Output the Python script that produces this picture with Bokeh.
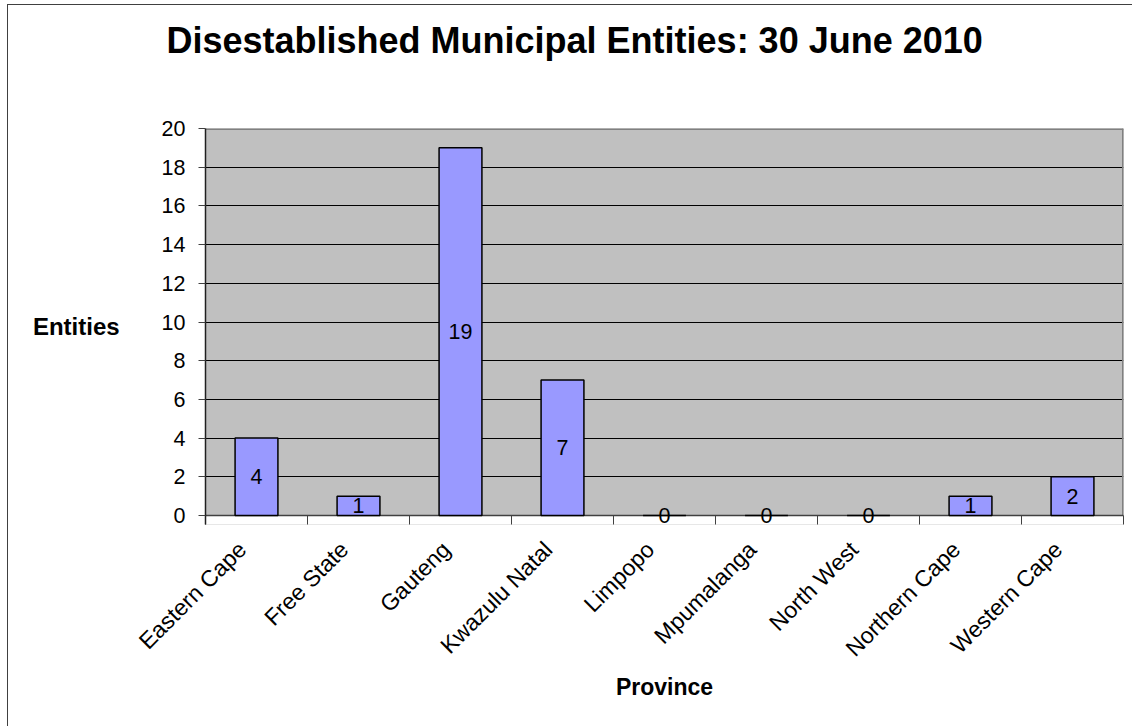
import math
from bokeh.plotting import figure
from bokeh.models import Range1d, FixedTicker, Label, Title, BoxAnnotation
from bokeh.embed import file_html
from bokeh.resources import INLINE

provinces = ["Eastern Cape", "Free State", "Gauteng", "Kwazulu Natal", "Limpopo",
             "Mpumalanga", "North West", "Northern Cape", "Western Cape"]
entities = [4, 1, 19, 7, 0, 0, 0, 1, 2]
y_ticks = [0, 2, 4, 6, 8, 10, 12, 14, 16, 18, 20]

title_text = "Disestablished Municipal Entities: 30 June 2010"
x_label = "Province"
y_label = "Entities"

FONT = "Liberation Sans"

n = len(provinces)
centers = [i + 0.5 for i in range(n)]
bounds = [float(i) for i in range(n + 1)]
label_pos = [c - 0.14 for c in centers]   # rotated labels sit slightly left of the centre
y_max = y_ticks[-1]
y_pad = -0.465   # a little room under zero so the "0" value labels are not clipped

p = figure(width=1125, height=722, output_backend="svg", toolbar_location=None,
           x_range=Range1d(0, n), y_range=Range1d(y_pad, y_max),
           min_border_left=197, min_border_top=123, min_border_right=10, min_border_bottom=203)

p.styles = {"margin-left": "7px", "margin-top": "4px",
            "border-left": "1px solid #404040", "border-top": "1px solid #404040"}

p.background_fill_color = "#C0C0C0"
p.border_fill_color = "white"
p.outline_line_color = None

# titles: a spacer next to the frame, then the real title above it
p.title.text = ""
p.add_layout(Title(text=" ", text_font_size="1px", standoff=65), "above")
p.add_layout(Title(text=title_text, align="left", offset=-39, standoff=0,
                   text_font=FONT, text_font_size="36px", text_font_style="bold",
                   text_color="black"), "above")

# white strip under the zero line
p.add_layout(BoxAnnotation(top=0, fill_color="white", fill_alpha=1.0,
                           line_color=None, level="underlay"))

# grids
p.xgrid.visible = False
p.ygrid.grid_line_color = "black"
p.ygrid.grid_line_width = 1
p.ygrid.ticker = FixedTicker(ticks=y_ticks)

# plot-area border (top and right) and the category axis line on zero
p.segment(x0=[0, n], y0=[y_max, 0], x1=[n, n], y1=[y_max, y_max],
          line_color="#808080", line_width=3)
p.segment(x0=[0], y0=[0], x1=[n], y1=[0], line_color="#404040", line_width=1.5)

# y axis
p.yaxis.ticker = FixedTicker(ticks=y_ticks)
p.yaxis.axis_line_color = "#202020"
p.yaxis.axis_line_width = 1.5
p.yaxis.major_tick_out = 7
p.yaxis.major_tick_in = 0
p.yaxis.major_tick_line_color = "#404040"
p.yaxis.minor_tick_out = 0
p.yaxis.minor_tick_in = 0
p.yaxis.major_label_standoff = 13
p.yaxis.major_label_text_font = FONT
p.yaxis.major_label_text_font_size = "21.5px"
p.yaxis.major_label_text_color = "black"
p.yaxis.axis_label = y_label
p.yaxis.axis_label_orientation = "horizontal"
p.yaxis.axis_label_standoff = 39
p.yaxis.axis_label_text_font = FONT
p.yaxis.axis_label_text_font_size = "24px"
p.yaxis.axis_label_text_font_style = "bold"
p.yaxis.axis_label_text_color = "black"

# x axis (frame bottom sits 9px under zero; boundary ticks reach up to the zero line)
p.xaxis.ticker = FixedTicker(ticks=label_pos, minor_ticks=bounds)
p.xaxis.major_label_overrides = {c: name for c, name in zip(label_pos, provinces)}
p.xaxis.major_label_orientation = math.pi / 4
p.xaxis.axis_line_color = None
p.xaxis.major_tick_out = 0
p.xaxis.major_tick_in = 0
p.xaxis.minor_tick_out = 0
p.xaxis.minor_tick_in = 9
p.xaxis.minor_tick_line_color = "#404040"
p.xaxis.minor_tick_line_width = 1
p.xaxis.major_label_standoff = 21
p.xaxis.major_label_text_font = FONT
p.xaxis.major_label_text_font_size = "23px"
p.xaxis.major_label_text_color = "black"
p.xaxis.axis_label = x_label
p.xaxis.axis_label_standoff = 0
p.xaxis.axis_label_text_font = FONT
p.xaxis.axis_label_text_font_size = "23px"
p.xaxis.axis_label_text_font_style = "bold"
p.xaxis.axis_label_text_color = "black"

# bars
p.vbar(x=centers, top=entities, width=0.42,
       fill_color="#9999FF", line_color="black", line_width=1.5)

# value labels, centred in each bar
for c, v in zip(centers, entities):
    p.add_layout(Label(x=c, y=v / 2, text=str(v), text_align="center",
                       text_baseline="middle", text_font=FONT, level="overlay",
                       text_font_size="21.5px", text_color="black"))

open("out.html", "w").write(file_html(p, INLINE))
